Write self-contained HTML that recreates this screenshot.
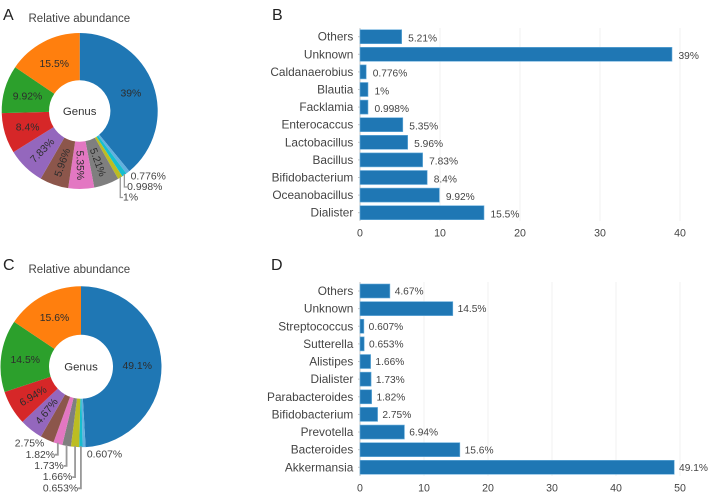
<!DOCTYPE html>
<html lang="en">
<head>
<meta charset="utf-8">
<title>Relative abundance by genus</title>
<style>
  html, body { margin: 0; padding: 0; background: #fff; }
  svg { display: block; font-family: "Liberation Sans", Arial, sans-serif; }
</style>
</head>
<body>
<svg id="figure" width="708" height="496" viewBox="0 0 708 496" xmlns="http://www.w3.org/2000/svg">
  <rect x="0" y="0" width="708" height="496" fill="#fff"/>
  <text x="3" y="20" font-size="16" fill="#222">A</text>
  <text x="272" y="20" font-size="16" fill="#222">B</text>
  <text x="3" y="270" font-size="16" fill="#222">C</text>
  <text x="271" y="270" font-size="16" fill="#222">D</text>
  <text x="28.5" y="22" font-size="11.5" fill="#444">Relative abundance</text>
  <text x="28.5" y="273" font-size="11.5" fill="#444">Relative abundance</text>
</svg>
<script>
// Panel A: donut values, clockwise from 12 o'clock
const pieAValues = [39, 0.776, 0.998, 1, 5.21, 5.35, 5.96, 7.83, 8.4, 9.92, 15.5];
// Panel C: donut values, clockwise from 12 o'clock
const pieCValues = [49.1, 0.607, 0.653, 1.66, 1.73, 1.82, 2.75, 4.67, 6.94, 14.5, 15.6];
// Panel B: horizontal bars, top to bottom
const barBCategories = ['Others', 'Unknown', 'Caldanaerobius', 'Blautia', 'Facklamia', 'Enterocaccus', 'Lactobacillus', 'Bacillus', 'Bifidobacterium', 'Oceanobacillus', 'Dialister'];
const barBValues = [5.21, 39, 0.776, 1, 0.998, 5.35, 5.96, 7.83, 8.4, 9.92, 15.5];
const barBTicks = [0, 10, 20, 30, 40];
// Panel D: horizontal bars, top to bottom
const barDCategories = ['Others', 'Unknown', 'Streptococcus', 'Sutterella', 'Alistipes', 'Dialister', 'Parabacteroides', 'Bifidobacterium', 'Prevotella', 'Bacteroides', 'Akkermansia'];
const barDValues = [4.67, 14.5, 0.607, 0.653, 1.66, 1.73, 1.82, 2.75, 6.94, 15.6, 49.1];
const barDTicks = [0, 10, 20, 30, 40, 50];

const sliceColors = ['#1f77b4', '#63b0de', '#17becf', '#bcbd22', '#7f7f7f', '#e377c2', '#8c564b', '#9467bd', '#d62728', '#2ca02c', '#ff7f0e'];
const svg = document.getElementById('figure');
const NS = 'http://www.w3.org/2000/svg';

function make(tag, attrs, text) {
  const el = document.createElementNS(NS, tag);
  for (const key in attrs) el.setAttribute(key, attrs[key]);
  if (text !== undefined) el.textContent = text;
  svg.appendChild(el);
  return el;
}

function drawPie(values, geo) {
  const total = values.reduce((a, b) => a + b, 0);
  const angle = v => (v / total) * 2 * Math.PI;
  const pt = (a, r) => [geo.cx + r * Math.sin(a), geo.cy - r * Math.cos(a)];
  let start = 0;
  const outside = [];
  values.forEach((v, i) => {
    const end = start + angle(v);
    const mid = (start + end) / 2;
    const large = end - start > Math.PI ? 1 : 0;
    const p1 = pt(start, geo.r), p2 = pt(end, geo.r), p3 = pt(end, geo.ir), p4 = pt(start, geo.ir);
    const slice = make('path', {
      d: `M${p1[0]} ${p1[1]}A${geo.r} ${geo.r} 0 ${large} 1 ${p2[0]} ${p2[1]}L${p3[0]} ${p3[1]}A${geo.ir} ${geo.ir} 0 ${large} 0 ${p4[0]} ${p4[1]}Z`,
      fill: sliceColors[i % sliceColors.length]
    });
    
    
    if (v < geo.outsideBelow) outside.push({ v, mid });
    else {
      const c = pt(mid, (geo.r + geo.ir) / 2);
      const deg = mid * 180 / Math.PI;
      let rot = 0;
      if (v < geo.horizontalAbove) rot = deg < 180 ? deg - 90 : deg - 270;
      const label = make('text', {
        x: c[0], y: c[1] + 4, 'text-anchor': 'middle', 'font-size': 10.4, fill: '#2d2d2d',
        transform: `rotate(${rot} ${c[0]} ${c[1]})`
      }, v + '%');
      
      
    }
    start = end;
  });
  const rightSide = outside.filter(o => o.mid * 180 / Math.PI < 180);
  const leftSide = outside.filter(o => o.mid * 180 / Math.PI >= 180).reverse();
  const placeSide = (list, base, dir) => {
    list.forEach((o, row) => {
      const edge = pt(o.mid, geo.r);
      const y = base + row * geo.rowStep;
      const tx = edge[0] + dir * 2.8;
      if (row > 0) {
        const leader = make('path', {
          d: `M${edge[0]} ${edge[1] - 1}V${y + 0.5}H${tx}`,
          fill: 'none', stroke: '#999', 'stroke-width': geo.leaderWidth
        });
        
        
      }
      const label = make('text', {
        x: tx, y: y + 3.6, 'text-anchor': dir > 0 ? 'start' : 'end', 'font-size': 10.4, fill: '#444'
      }, o.v + '%');
      
      
    });
  };
  placeSide(rightSide, geo.rightBase, 1);
  placeSide(leftSide, geo.leftBase, -1);
  const centre = make('text', {
    x: geo.cx, y: geo.cy + 4, 'text-anchor': 'middle', 'font-size': 11.4, fill: '#333'
  }, 'Genus');
  
  
}

function drawBars(categories, values, ticks, geo) {
  const maxTick = ticks[ticks.length - 1];
  const x = v => geo.x0 + (v / maxTick) * (geo.x1 - geo.x0);
  const y = i => geo.yFirst + i * (geo.yLast - geo.yFirst) / (categories.length - 1);
  ticks.forEach(t => {
    if (t !== 0) {
      const grid = make('line', { x1: x(t), x2: x(t), y1: geo.top, y2: geo.bottom, stroke: '#f1f1f1', 'stroke-width': 1 });
      
      
    }
    const tick = make('text', { x: x(t), y: geo.bottom + 15.7, 'text-anchor': 'middle', 'font-size': 10.6, fill: '#444' }, t);
    
    
  });
  const axis = make('line', { x1: geo.x0, x2: geo.x0, y1: geo.top, y2: geo.bottom, stroke: '#c4c4c4', 'stroke-width': 1 });
  
  
  categories.forEach((c, i) => {
    const mark = make('line', { x1: geo.x0 - 2, x2: geo.x0, y1: y(i), y2: y(i), stroke: '#c4c4c4', 'stroke-width': 1 });
    
    
    const bar = make('rect', {
      x: geo.x0, y: y(i) - 7, width: Math.max(0, x(values[i]) - geo.x0), height: 14,
      fill: '#1f77b4', stroke: '#6aaedb', 'stroke-width': 0.6
    });
    
    
    const cat = make('text', { x: geo.x0 - 6.7, y: y(i) + 4, 'text-anchor': 'end', 'font-size': 11.85, fill: '#444' }, c);
    
    
    const val = make('text', { x: x(values[i]) + geo.labelGap, y: y(i) + geo.labelDrop, 'font-size': 10.2, fill: '#444' }, values[i] + '%');
    
    
  });
}

drawPie(pieAValues, { cx: 79.7, cy: 111, r: 78, ir: 30.7, outsideBelow: 1.5, horizontalAbove: 8, rightBase: 176, leftBase: 0, rowStep: 10.5, leaderWidth: 1.3 });
drawPie(pieCValues, { cx: 81, cy: 366.7, r: 80.5, ir: 32, outsideBelow: 3, horizontalAbove: 8, rightBase: 454, leftBase: 443, rowStep: 11.2, leaderWidth: 1.8 });
drawBars(barBCategories, barBValues, barBTicks, { x0: 360, x1: 680, yFirst: 36.7, yLast: 212.7, top: 28, bottom: 221, labelGap: 6.5, labelDrop: 4.8 });
drawBars(barDCategories, barDValues, barDTicks, { x0: 360, x1: 680, yFirst: 291, yLast: 467.3, top: 282, bottom: 476, labelGap: 4.8, labelDrop: 3.6 });
</script>
</body>
</html>
